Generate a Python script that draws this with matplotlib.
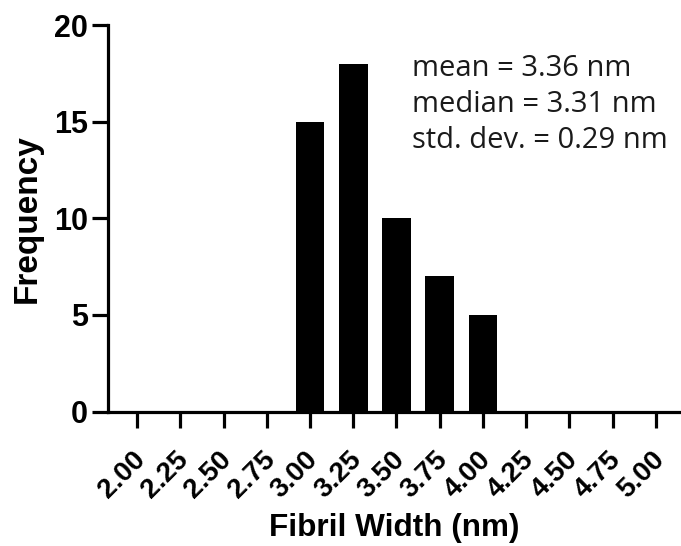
import matplotlib
matplotlib.use('Agg')
import matplotlib.pyplot as plt
from matplotlib.transforms import ScaledTranslation

# histogram of fibril widths
bin_centers = [3.00, 3.25, 3.50, 3.75, 4.00]
counts = [15, 18, 10, 7, 5]
x_ticks = [2.00, 2.25, 2.50, 2.75, 3.00, 3.25, 3.50, 3.75, 4.00,
           4.25, 4.50, 4.75, 5.00]
y_ticks = [0, 5, 10, 15, 20]
stats_lines = ['mean = 3.36 nm', 'median = 3.31 nm', 'std. dev. = 0.29 nm']

bold = {'family': 'Liberation Sans', 'weight': 'bold'}

fig = plt.figure(figsize=(6.81, 5.46), dpi=100)
ax = fig.add_axes([0.1586, 0.2463, 0.8414, 0.7079])

ax.bar(bin_centers, counts, width=0.165, color='black', edgecolor='none')

ax.set_xlim(1.832, 5.145)
ax.set_ylim(0, 20)
ax.set_xticks(x_ticks)
ax.set_xticklabels(['%.2f' % t for t in x_ticks], rotation=45,
                   ha='right', va='top', rotation_mode='anchor',
                   fontdict=dict(bold, size=20))
ax.set_yticks(y_ticks)
ax.set_yticklabels([str(t) for t in y_ticks], fontdict=dict(bold, size=22))

for side in ['top', 'right']:
  ax.spines[side].set_visible(False)
for side in ['left', 'bottom']:
  ax.spines[side].set_linewidth(2.3)
ax.tick_params(axis='both', direction='out', length=11.5, width=2.3,
               color='black')
ax.tick_params(axis='x', pad=14)
ax.tick_params(axis='y', pad=3)

# nudge rotated labels a little to the left
shift = ScaledTranslation(-5 / 100.0, 0, fig.dpi_scale_trans)
for lbl in ax.get_xticklabels():
  lbl.set_transform(lbl.get_transform() + shift)

ax.set_xlabel('Fibril Width (nm)', fontdict=dict(bold, size=22.7), labelpad=7)
ax.set_ylabel('Frequency', fontdict=dict(bold, size=24), labelpad=8)

# summary statistics
y0 = 17.35
for i, line in enumerate(stats_lines):
  ax.text(3.59, y0 - 1.855 * i, line, family='Open Sans', size=21,
          ha='left', va='baseline', color='#1a1a1a')

fig.savefig('out.png', dpi=100, facecolor='white')
